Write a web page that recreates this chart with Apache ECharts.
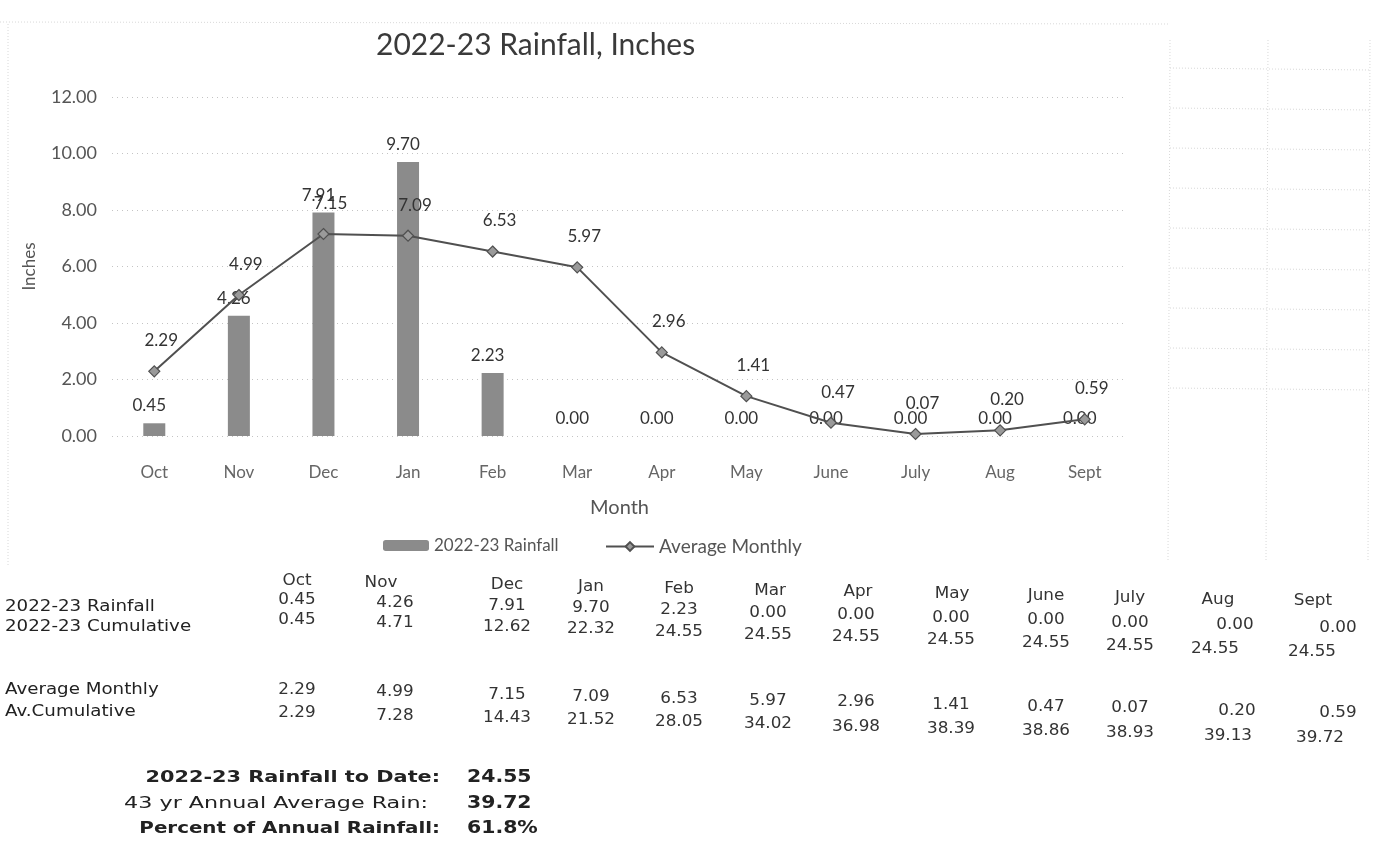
<!DOCTYPE html>
<html>
<head>
<meta charset="utf-8">
<script src="https://cdn.jsdelivr.net/npm/echarts@6/dist/echarts.min.js"></script>
<style>html,body{margin:0;padding:0;background:#fff;}#c{width:1382px;height:842px;}</style>
</head>
<body>
<div id="c"></div>
<script>
// ---- data ----
const months = ['Oct','Nov','Dec','Jan','Feb','Mar','Apr','May','June','July','Aug','Sept'];
const rainfall = [0.45, 4.26, 7.91, 9.70, 2.23, 0.00, 0.00, 0.00, 0.00, 0.00, 0.00, 0.00];
const cumulative = [0.45, 4.71, 12.62, 22.32, 24.55, 24.55, 24.55, 24.55, 24.55, 24.55, 24.55, 24.55];
const avgMonthly = [2.29, 4.99, 7.15, 7.09, 6.53, 5.97, 2.96, 1.41, 0.47, 0.07, 0.20, 0.59];
const avCumulative = [2.29, 7.28, 14.43, 21.52, 28.05, 34.02, 36.98, 38.39, 38.86, 38.93, 39.13, 39.72];
const yMin = 0, yMax = 12, yStep = 2;
const seriesNames = ['2022-23 Rainfall', 'Average Monthly'];
const rowLabels = ['2022-23 Rainfall', '2022-23 Cumulative', 'Average Monthly', 'Av.Cumulative'];
const summaryLabels = ['2022-23 Rainfall to Date:', '43 yr Annual Average Rain:', 'Percent of Annual Rainfall:'];
const summaryValues = ['24.55', '39.72', '61.8%'];

// ---- layout ----
const chartFont = 'Lato';
const tableFont = 'DejaVu Sans';
const colX = [297, 395, 507, 591, 679, 768, 856, 951, 1046, 1130, 1222, 1322];
const headerX = [297, 381, 507, 591, 679, 770, 858, 952, 1046, 1130, 1218, 1313];
const rowBaseY = [600, 620, 690, 713];
const rowSkew = [0.027, 0.031, 0.022, 0.024];
const rowShift = [[0, 0, 0, 0, 0, 0, 0, 0, 0, 0, 13, 16], [0, 0, 0, 0, 0, 0, 0, 0, 0, 0, -7, -10],
                  [0, 0, 0, 0, 0, 0, 0, 0, 0, 0, 15, 16], [0, 0, 0, 0, 0, 0, 0, 0, 0, 0, 6, -2]];
const headerBaseY = 581, headerSkew = 0.02;
const labelY = [607, 627, 690, 712];

const g = [];
const tableRows = [rainfall, cumulative, avgMonthly, avCumulative];
months.forEach((m, i) => {
  g.push({type: 'text', x: headerX[i], y: headerBaseY + headerSkew * (headerX[i] - 297), scaleX: 1.05,
    style: {text: m, font: '16px "' + tableFont + '"', fill: '#333', align: 'center', verticalAlign: 'middle'}});
});
tableRows.forEach((row, r) => {
  g.push({type: 'text', x: 5, y: labelY[r], scaleX: 1.14,
    style: {text: rowLabels[r], font: '16px "' + tableFont + '"', fill: '#222', align: 'left', verticalAlign: 'middle'}});
  row.forEach((v, i) => {
    const x = colX[i] + rowShift[r][i];
    g.push({type: 'text', x: x, y: rowBaseY[r] + rowSkew[r] * (x - 297), scaleX: 1.05,
      style: {text: v.toFixed(2), font: '16px "' + tableFont + '"', fill: '#333', align: 'center', verticalAlign: 'middle'}});
  });
});
const sumY = [778, 804, 829];
const sumRight = [440, 428, 440];
const sumScale = [1.3, 1.39, 1.24];
summaryLabels.forEach((t, i) => {
  g.push({type: 'text', x: sumRight[i], y: sumY[i], scaleX: sumScale[i],
    style: {text: t, font: (i === 1 ? '' : 'bold ') + '16px "' + tableFont + '"', fill: '#222', align: 'right', verticalAlign: 'middle'}});
  g.push({type: 'text', x: 467, y: sumY[i], scaleX: 1.2,
    style: {text: summaryValues[i], font: 'bold 17px "' + tableFont + '"', fill: '#222', align: 'left', verticalAlign: 'middle'}});
});
// faint spreadsheet / chart frame lines
const faint = {stroke: '#d8d8d8', lineWidth: 1, lineDash: [1, 2]};
g.push({type: 'line', shape: {x1: 0, y1: 22, x2: 1170, y2: 24}, style: faint});
g.push({type: 'line', shape: {x1: 8, y1: 24, x2: 8, y2: 565}, style: faint});
[1170, 1268, 1370].forEach(x => g.push({type: 'line', shape: {x1: x, y1: 40, x2: x - 2, y2: 560}, style: faint}));
for (let k = 0; k < 9; k++) {
  const y = 68 + k * 40;
  g.push({type: 'line', shape: {x1: 1170, y1: y, x2: 1370, y2: y + 2}, style: faint});
}

const chart = echarts.init(document.getElementById('c'), null, {renderer: 'canvas'});
chart.setOption({
  backgroundColor: '#fff',
  animation: false,
  title: {text: '2022-23 Rainfall, Inches', left: 371, top: 25,
    textStyle: {fontFamily: chartFont, fontSize: 30, fontWeight: 'normal', color: '#3a3a3a'}},
  legend: [
    {left: 378, top: 532, itemWidth: 46, itemHeight: 11,
      textStyle: {fontFamily: chartFont, fontSize: 17, color: '#555'}, data: [seriesNames[0]]},
    {left: 600, top: 532, itemWidth: 48, itemHeight: 11,
      textStyle: {fontFamily: chartFont, fontSize: 19, color: '#555'}, data: [seriesNames[1]]}
  ],
  grid: {left: 112, right: 255, top: 97, bottom: 406, containLabel: false},
  xAxis: {type: 'category', data: months, name: 'Month', nameLocation: 'middle', nameGap: 62,
    nameTextStyle: {fontFamily: chartFont, fontSize: 20, color: '#555'},
    axisLine: {show: false}, axisTick: {show: false},
    axisLabel: {fontFamily: chartFont, fontSize: 17, color: '#666', margin: 28}},
  yAxis: {type: 'value', min: yMin, max: yMax, interval: yStep, name: 'Inches', nameLocation: 'middle', nameGap: 74,
    nameRotate: 90, nameTextStyle: {fontFamily: chartFont, fontSize: 17, color: '#555'},
    axisLine: {show: false}, axisTick: {show: false},
    axisLabel: {fontFamily: chartFont, fontSize: 18, color: '#555', margin: 15, formatter: v => v.toFixed(2)},
    splitLine: {lineStyle: {color: '#c4c4c4', type: [1, 4], width: 1}}},
  series: [
    {name: seriesNames[0], type: 'bar', data: rainfall, barWidth: 22,
      itemStyle: {color: '#8b8b8b'},
      label: {show: true, position: 'top', distance: 9, offset: [-5, 0], fontFamily: chartFont, fontSize: 17, color: '#333',
        formatter: p => p.value.toFixed(2)}},
    {name: seriesNames[1], type: 'line', data: avgMonthly, symbol: 'diamond', symbolSize: 11,
      lineStyle: {color: '#505050', width: 2}, itemStyle: {color: '#9a9a9a', borderColor: '#505050', borderWidth: 1.2},
      label: {show: true, position: 'top', distance: 16, offset: [7, 0], fontFamily: chartFont, fontSize: 17, color: '#333',
        formatter: p => p.value.toFixed(2)}, z: 3}
  ],
  graphic: g
});
</script>
</body>
</html>
